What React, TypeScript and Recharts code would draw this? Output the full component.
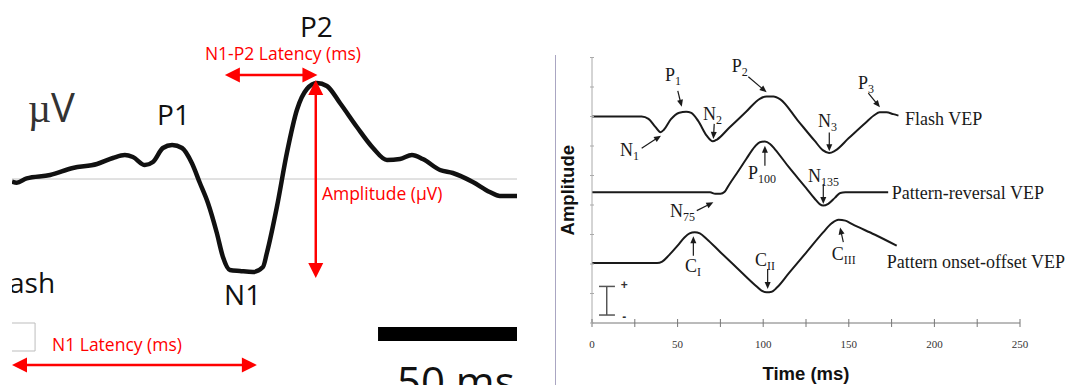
import {
  Line,
  LineChart,
  ReferenceDot,
  ReferenceLine,
  XAxis,
  YAxis,
} from 'recharts'

// left panel: flash VEP trace (ms from flash, µV)
const traceTime = [0, 1.7, 5.3, 13.7, 21.9, 30.6, 36.3, 40.6, 43.5, 47.8, 50.7, 54.3, 57.6, 61.2, 64.7, 67.6, 70.5, 73.7, 75.9, 78.4, 82, 86.7, 90.3, 91.7, 95.3, 98.9, 102.5, 106.1, 109.7, 113.3, 118, 124.1, 129.9, 134.9, 139.6, 143.9, 147.8, 154, 158.6, 165.8, 171.9, 175.5, 181.7]
const traceAmp = [-0.27, -0.37, 0.07, 0.4, 1.1, 1.5, 2.1, 2.4, 2.2, 1.4, 1.7, 3.1, 3.4, 3.1, 1.6, -0.4, -2.4, -5.4, -7.8, -9.1, -9.2, -9.3, -8.8, -7.4, -2.8, 2.6, 6.9, 9.0, 9.6, 9.3, 7.6, 5.2, 3.1, 1.9, 2.0, 2.4, 2.0, 0.9, 0.6, -0.3, -1.3, -1.7, -1.7]

// right panel: schematic VEP waveforms (ms, arbitrary amplitude)
const flashTime = [0, 29, 33, 37, 40, 42, 46, 51, 55, 58, 62, 67, 70.5, 73, 80, 90, 98, 102, 106, 110, 120, 130, 135, 138.5, 142, 150, 160, 165, 168, 172, 176, 179]
const flashAmp = [7.0, 7.0, 6.92, 6.65, 6.47, 6.55, 6.9, 7.13, 7.16, 7.12, 6.85, 6.35, 6.16, 6.22, 6.61, 7.16, 7.6, 7.68, 7.68, 7.58, 6.88, 6.18, 5.85, 5.76, 5.84, 6.27, 6.8, 7.05, 7.14, 7.14, 7.08, 7.03]
const reversalTime = [0, 69, 72, 75, 77.5, 80, 85, 90, 95, 98, 101, 104, 107, 115, 125, 130, 133, 135, 138, 142, 145, 148, 173]
const reversalAmp = [4.43, 4.43, 4.38, 4.38, 4.45, 4.68, 5.11, 5.55, 5.97, 6.13, 6.15, 6.07, 5.88, 5.28, 4.58, 4.22, 4.03, 3.98, 4.04, 4.25, 4.41, 4.43, 4.43]
const onsetTime = [0, 38, 41, 45, 50, 54, 57, 60, 63, 67, 75, 85, 95, 99, 102, 105, 108, 115, 125, 135, 140, 144, 148, 152, 165, 178]
const onsetAmp = [2.03, 2.03, 2.08, 2.3, 2.62, 2.9, 3.04, 3.08, 3.04, 2.85, 2.4, 1.85, 1.3, 1.1, 1.04, 1.06, 1.2, 1.69, 2.38, 3.07, 3.38, 3.5, 3.47, 3.35, 3.0, 2.62]

const timeTicks = [0, 25, 50, 75, 100, 125, 150, 175, 200, 225, 250]
const ampTicks = [0, 1, 2, 3, 4, 5, 6, 7, 8, 9]

const waveNames = ['Flash VEP', 'Pattern-reversal VEP', 'Pattern onset-offset VEP']
const waveNameAt = [
  [182.8, 6.7],
  [175.1, 4.21],
  [172.1, 1.86],
]

// peak names: letter, subscript, anchor (t, v)
const peaks: [string, string, number, number][] = [
  ['P', '1', 42.6, 8.21],
  ['P', '2', 81.6, 8.5],
  ['N', '2', 64.8, 6.88],
  ['N', '1', 16.4, 5.67],
  ['N', '3', 132, 6.65],
  ['P', '3', 155.4, 7.93],
  ['P', '100', 91.1, 4.88],
  ['N', '135', 126.2, 4.77],
  ['N', '75', 45.6, 3.58],
  ['C', 'I', 54.3, 1.72],
  ['C', 'II', 95.2, 1.94],
  ['C', 'III', 140, 2.15],
]
// pointer arrows, from label to peak
const pointers = [
  [50.1, 7.87, 52.4, 7.33],
  [91.3, 8.35, 102.0, 7.82],
  [71.4, 6.75, 70.9, 6.24],
  [29.0, 5.92, 40.3, 6.35],
  [138.6, 6.46, 138.6, 5.82],
  [161.4, 7.79, 168.2, 7.31],
  [101, 5.33, 101, 6.01],
  [135.1, 4.71, 135.1, 4.03],
  [61.2, 3.81, 70.9, 4.09],
  [59.2, 2.28, 59.2, 2.94],
  [102.6, 1.83, 102.6, 1.15],
  [146.8, 2.74, 144.9, 3.24],
]

const zip = (t: number[], v: number[]) => t.map((x, i) => ({ t: x, v: v[i] }))

type Seg = { x1: number; y1: number; x2: number; y2: number }

function arrow(color: string, width: number, len: number, half: number, both: boolean) {
  return (p: Seg) => {
    const { x1, y1, x2, y2 } = p
    const a = Math.atan2(y2 - y1, x2 - x1)
    const head = (x: number, y: number, ang: number) => {
      const bx = x - len * Math.cos(ang)
      const by = y - len * Math.sin(ang)
      const nx = -Math.sin(ang) * half
      const ny = Math.cos(ang) * half
      return `${x},${y} ${bx + nx},${by + ny} ${bx - nx},${by - ny}`
    }
    const sx = both ? x1 + len * 0.7 * Math.cos(a) : x1
    const sy = both ? y1 + len * 0.7 * Math.sin(a) : y1
    return (
      <g>
        <line
          x1={sx}
          y1={sy}
          x2={x2 - len * 0.7 * Math.cos(a)}
          y2={y2 - len * 0.7 * Math.sin(a)}
          stroke={color}
          strokeWidth={width}
        />
        <polygon points={head(x2, y2, a)} fill={color} />
        {both && <polygon points={head(x1, y1, a + Math.PI)} fill={color} />}
      </g>
    )
  }
}

const redArrow = arrow('#ff0000', 2.5, 15, 7.5, true)
const pointerArrow = arrow('#1a1a1a', 1.2, 7, 3, false)

const sans = '"Open Sans", "Liberation Sans", sans-serif'
const serif = '"Liberation Serif", "DejaVu Serif", serif'
const bold = '"Liberation Sans", Arial, sans-serif'

function note(key: string, x: number, y: number, draw: (cx: number, cy: number) => React.ReactElement) {
  return (
    <ReferenceDot
      key={key}
      x={x}
      y={y}
      r={0}
      ifOverflow="visible"
      shape={(p: any) => draw(p.cx, p.cy)}
    />
  )
}

function redText(key: string, x: number, y: number, text: string) {
  return note(key, x, y, (cx, cy) => (
    <text x={cx} y={cy} fill="#ff0000" fontFamily={sans} fontSize={17.5}>
      {text}
    </text>
  ))
}

function blackText(key: string, x: number, y: number, text: string, anchor = 'start') {
  return note(key, x, y, (cx, cy) => (
    <text x={cx} y={cy} fill="#111" fontFamily={sans} fontSize={28} textAnchor={anchor}>
      {text}
    </text>
  ))
}

function FlashTrace() {
  return (
    <LineChart width={505} height={385} margin={{ top: 0, right: 0, bottom: 0, left: 0 }}>
      <XAxis type="number" dataKey="t" domain={[0, 181.7]} hide allowDataOverflow />
      <YAxis type="number" domain={[-20.6, 17.9]} hide allowDataOverflow />
      <ReferenceLine y={0} stroke="#c4c4c4" strokeWidth={1} />
      <Line
        data={zip(traceTime, traceAmp)}
        dataKey="v"
        type="monotone"
        stroke="#111"
        strokeWidth={4.5}
        dot={false}
        isAnimationActive={false}
      />
      <ReferenceLine
        segment={[{ x: 76.6, y: 10.4 }, { x: 109.9, y: 10.4 }]}
        shape={redArrow}
        ifOverflow="visible"
      />
      <ReferenceLine
        segment={[{ x: 109.3, y: 9.9 }, { x: 109.3, y: -9.9 }]}
        shape={redArrow}
        ifOverflow="visible"
      />
      <ReferenceLine
        segment={[{ x: 0, y: -18.6 }, { x: 88.1, y: -18.6 }]}
        shape={redArrow}
        ifOverflow="visible"
      />
      <ReferenceLine
        segment={[{ x: 131.7, y: -15.5 }, { x: 181.7, y: -15.5 }]}
        stroke="#000"
        strokeWidth={14}
        ifOverflow="visible"
      />
      <ReferenceLine
        segment={[{ x: -2, y: -14.4 }, { x: 8.3, y: -14.4 }]}
        stroke="#bdbdbd"
        ifOverflow="visible"
      />
      <ReferenceLine
        segment={[{ x: 8.3, y: -14.4 }, { x: 8.3, y: -17.2 }]}
        stroke="#bdbdbd"
        ifOverflow="visible"
      />
      <ReferenceLine
        segment={[{ x: -2, y: -17.2 }, { x: 8.3, y: -17.2 }]}
        stroke="#bdbdbd"
        ifOverflow="visible"
      />
      {redText('lat12', 69.4, 11.9, 'N1-P2 Latency (ms)')}
      {redText('amp', 111.5, -2.1, 'Amplitude (µV)')}
      {redText('lat1', 14.4, -17.2, 'N1 Latency (ms)')}
      {blackText('p2', 103.6, 14.23, 'P2')}
      {blackText('p1', 52.2, 5.4, 'P1')}
      {blackText('n1', 76.3, -12.6, 'N1')}
      {blackText('flash', 15.5, -11.4, 'Flash', 'end')}
      {note('uv', 5.76, 5.7, (cx, cy) => (
        <text x={cx} y={cy} fill="#333" fontSize={40}>
          <tspan fontFamily={serif}>µ</tspan>
          <tspan fontFamily={sans}>V</tspan>
        </text>
      ))}
      {note('bar', 138.5, -21.8, (cx, cy) => (
        <text x={cx} y={cy} fill="#111" fontFamily={sans} fontSize={42}>
          50 ms
        </text>
      ))}
    </LineChart>
  )
}

function TimeTick(p: any) {
  const { x, y, payload } = p
  return (
    <g>
      <line x1={x} x2={x} y1={y - 4} y2={y + 4} stroke="#777" strokeWidth={1} />
      {payload.value % 50 === 0 && (
        <text x={x} y={y + 25} textAnchor="middle" fill="#333" fontFamily={serif} fontSize={11}>
          {payload.value}
        </text>
      )}
    </g>
  )
}

function AmpTick(p: any) {
  const { x, y } = p
  return <line x1={x - 2} x2={x + 2} y1={y} y2={y} stroke="#aaa" strokeWidth={1} />
}

function VepSchema() {
  const waves = [zip(flashTime, flashAmp), zip(reversalTime, reversalAmp), zip(onsetTime, onsetAmp)]
  return (
    <LineChart width={535} height={385} margin={{ top: 57.5, right: 55, bottom: 0, left: 0 }}>
      <XAxis
        type="number"
        dataKey="t"
        domain={[0, 250]}
        ticks={timeTicks}
        height={62}
        tickSize={0}
        tickMargin={0}
        tickLine={false}
        axisLine={{ stroke: '#777' }}
        tick={TimeTick}
        interval={0}
        allowDataOverflow
      />
      <YAxis
        type="number"
        domain={[0, 9]}
        ticks={ampTicks}
        width={52}
        tickSize={0}
        tickMargin={0}
        tickLine={false}
        axisLine={{ stroke: '#aaa' }}
        tick={AmpTick}
        interval={0}
        allowDataOverflow
      />
      {waves.map((w, i) => (
        <Line
          key={waveNames[i]}
          data={w}
          dataKey="v"
          name={waveNames[i]}
          type="monotone"
          stroke="#1a1a1a"
          strokeWidth={2}
          dot={false}
          isAnimationActive={false}
        />
      ))}
      {waveNames.map((n, i) =>
        note('w' + i, waveNameAt[i][0], waveNameAt[i][1], (cx, cy) => (
          <text x={cx} y={cy} fill="#1a1a1a" fontFamily={serif} fontSize={18}>
            {n}
          </text>
        )),
      )}
      {peaks.map(([l, s, t, v]) =>
        note(l + s, t, v, (cx, cy) => (
          <text x={cx} y={cy} fill="#1a1a1a" fontFamily={serif} fontSize={18}>
            <tspan>{l}</tspan>
            <tspan fontSize={12} dy={4}>
              {s}
            </tspan>
          </text>
        )),
      )}
      {pointers.map(([t1, v1, t2, v2], i) => (
        <ReferenceLine
          key={'ptr' + i}
          segment={[{ x: t1, y: v1 }, { x: t2, y: v2 }]}
          shape={pointerArrow}
          ifOverflow="visible"
        />
      ))}
      <ReferenceLine segment={[{ x: 8.6, y: 1.24 }, { x: 8.6, y: 0.27 }]} stroke="#555" strokeWidth={1.5} />
      <ReferenceLine segment={[{ x: 4.1, y: 1.24 }, { x: 13.4, y: 1.24 }]} stroke="#555" strokeWidth={1.5} />
      <ReferenceLine segment={[{ x: 4.1, y: 0.27 }, { x: 13.4, y: 0.27 }]} stroke="#555" strokeWidth={1.5} />
      {note('plus', 18.9, 1.29, (cx, cy) => (
        <text x={cx} y={cy + 4} textAnchor="middle" fill="#333" fontFamily={bold} fontSize={12} fontWeight="bold">
          +
        </text>
      ))}
      {note('minus', 18.9, 0.2, (cx, cy) => (
        <text x={cx} y={cy + 4} textAnchor="middle" fill="#333" fontFamily={bold} fontSize={12} fontWeight="bold">
          -
        </text>
      ))}
      {note('ylab', -14.6, 4.5, (cx, cy) => (
        <text
          x={cx}
          y={cy}
          transform={`rotate(-90 ${cx} ${cy})`}
          textAnchor="middle"
          dominantBaseline="central"
          fill="#111"
          fontFamily={bold}
          fontWeight="bold"
          fontSize={18.5}
        >
          Amplitude
        </text>
      ))}
      {note('xlab', 125, -1.93, (cx, cy) => (
        <text x={cx} y={cy} textAnchor="middle" fill="#111" fontFamily={bold} fontWeight="bold" fontSize={18.5}>
          Time (ms)
        </text>
      ))}
    </LineChart>
  )
}

export default function App() {
  return (
    <div
      style={{
        position: 'absolute',
        left: 0,
        top: 0,
        width: 1075,
        height: 385,
        background: '#fff',
        overflow: 'hidden',
      }}
    >
      <div style={{ position: 'absolute', left: 12, top: 0, width: 505, height: 385, overflow: 'hidden' }}>
        <FlashTrace />
      </div>
      <div style={{ position: 'absolute', left: 555, top: 55, width: 1, height: 330, background: '#aaa6c2' }} />
      <div style={{ position: 'absolute', left: 540, top: 0, width: 535, height: 385 }}>
        <VepSchema />
      </div>
    </div>
  )
}
